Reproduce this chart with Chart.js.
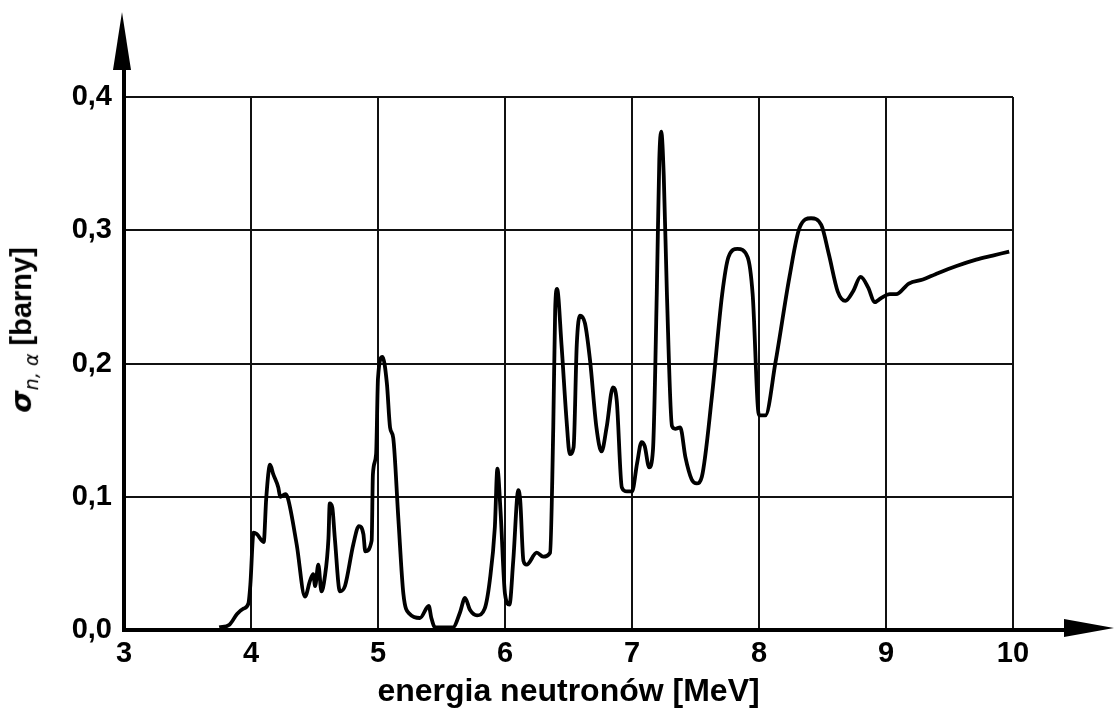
<!DOCTYPE html>
<html>
<head>
<meta charset="utf-8">
<script src="https://cdn.jsdelivr.net/npm/chart.js@4.4.1/dist/chart.umd.min.js"></script>
<style>
  html, body { margin: 0; padding: 0; background: #fff; }
  #wrap { position: relative; width: 1115px; height: 711px; }
  #ytitle {
    position: absolute; left: 24px; top: 330px;
    transform: translate(-50%, -50%) rotate(-90deg);
    white-space: nowrap; font-family: "Liberation Sans", Arial, sans-serif;
    font-weight: bold; font-size: 29px; color: #000; line-height: 1;
  }
  #ytitle .sym { font-style: italic; font-weight: bold; font-family: "DejaVu Sans", sans-serif; }
  #ytitle sub { font-size: 19px; font-style: italic; font-weight: normal; font-family: "DejaVu Sans", sans-serif; }
</style>
</head>
<body>
<div id="wrap">
  <canvas id="c" width="1115" height="711"></canvas>
  <div id="ytitle"><span class="sym">σ</span><sub>n, α</sub> [barny]</div>
</div>
<script>
const energy = [3.75, 3.83, 3.89, 3.94, 3.98, 3.995, 4.02, 4.045, 4.10, 4.12, 4.15, 4.175, 4.215, 4.23, 4.27, 4.29,
  4.36, 4.425, 4.465, 4.49, 4.505, 4.53, 4.555, 4.58, 4.61, 4.62, 4.64, 4.66, 4.70, 4.74, 4.805, 4.85, 4.885, 4.90,
  4.95, 4.96, 4.985, 5.00, 5.035, 5.07, 5.095, 5.12, 5.16, 5.20, 5.25, 5.33, 5.40, 5.42, 5.45, 5.59, 5.645, 5.685,
  5.725, 5.78, 5.84, 5.88, 5.92, 5.94, 5.965, 6.00, 6.035, 6.065, 6.105, 6.12, 6.145, 6.17, 6.25, 6.30, 6.355, 6.38,
  6.395, 6.41, 6.445, 6.485, 6.51, 6.54, 6.565, 6.59, 6.63, 6.67, 6.72, 6.76, 6.80, 6.85, 6.88, 6.92, 6.96, 7.00,
  7.04, 7.075, 7.10, 7.135, 7.165, 7.195, 7.215, 7.23, 7.25, 7.275, 7.315, 7.34, 7.38, 7.42, 7.47, 7.51, 7.55, 7.63,
  7.71, 7.76, 7.83, 7.91, 7.95, 8.00, 8.05, 8.13, 8.24, 8.32, 8.41, 8.49, 8.55, 8.62, 8.68, 8.74, 8.80, 8.86, 8.91,
  8.96, 9.03, 9.08, 9.18, 9.29, 9.39, 9.55, 9.71, 9.84, 9.97];
const sigma = [0.002, 0.004, 0.012, 0.016, 0.020, 0.034, 0.073, 0.072, 0.066, 0.099, 0.124, 0.117, 0.107, 0.100, 0.102, 0.099,
  0.064, 0.025, 0.037, 0.042, 0.033, 0.049, 0.029, 0.039, 0.069, 0.095, 0.092, 0.069, 0.029, 0.033, 0.064, 0.078, 0.072, 0.059,
  0.067, 0.117, 0.132, 0.189, 0.205, 0.185, 0.152, 0.144, 0.084, 0.027, 0.012, 0.009, 0.018, 0.009, 0.002, 0.002, 0.013, 0.024,
  0.015, 0.011, 0.016, 0.037, 0.077, 0.121, 0.089, 0.027, 0.019, 0.052, 0.105, 0.097, 0.052, 0.049, 0.058, 0.055, 0.058, 0.152,
  0.240, 0.256, 0.214, 0.157, 0.132, 0.137, 0.214, 0.236, 0.230, 0.202, 0.152, 0.134, 0.152, 0.182, 0.172, 0.107, 0.104, 0.104,
  0.125, 0.141, 0.138, 0.122, 0.135, 0.252, 0.353, 0.374, 0.341, 0.252, 0.153, 0.151, 0.152, 0.130, 0.113, 0.110, 0.115, 0.176,
  0.252, 0.280, 0.286, 0.280, 0.252, 0.161, 0.161, 0.201, 0.265, 0.302, 0.309, 0.304, 0.282, 0.254, 0.247, 0.254, 0.265, 0.257, 0.246,
  0.249, 0.252, 0.252, 0.260, 0.263, 0.267, 0.273, 0.278, 0.281, 0.284];
const xTickLabels = ['3', '4', '5', '6', '7', '8', '9', '10'];
const yTickLabels = ['0,0', '0,1', '0,2', '0,3', '0,4'];
const xTitle = 'energia neutronów [MeV]';

const points = energy.map((e, i) => ({ x: e, y: sigma[i] }));
const FONT = '"Liberation Sans", Arial, sans-serif';

const arrows = {
  id: 'arrows',
  afterDraw(chart) {
    const { ctx, chartArea: a } = chart;
    ctx.save();
    ctx.strokeStyle = '#000';
    ctx.fillStyle = '#000';
    ctx.lineWidth = 4;
    ctx.beginPath();
    ctx.moveTo(a.left, a.top + 2);
    ctx.lineTo(a.left, 66);
    ctx.stroke();
    ctx.beginPath();
    ctx.moveTo(a.left - 2, 12);
    ctx.lineTo(a.left - 11, 70);
    ctx.lineTo(a.left + 7, 70);
    ctx.closePath();
    ctx.fill();
    ctx.beginPath();
    ctx.moveTo(a.right - 2, a.bottom);
    ctx.lineTo(1068, a.bottom);
    ctx.stroke();
    ctx.beginPath();
    ctx.moveTo(1114, a.bottom - 2);
    ctx.lineTo(1064, a.bottom - 11);
    ctx.lineTo(1064, a.bottom + 7);
    ctx.closePath();
    ctx.fill();
    ctx.restore();
  }
};

new Chart(document.getElementById('c'), {
  type: 'line',
  data: {
    datasets: [{
      data: points,
      borderColor: '#000',
      borderWidth: 3.8,
      pointRadius: 0,
      fill: false,
      cubicInterpolationMode: 'monotone'
    }]
  },
  options: {
    responsive: false,
    animation: false,
    devicePixelRatio: 1,
    layout: { padding: { top: 97, right: 102, left: 0, bottom: 0 } },
    plugins: { legend: { display: false }, tooltip: { enabled: false } },
    scales: {
      x: {
        type: 'linear', min: 3, max: 10,
        afterFit(s) { s.height = 81; },
        afterBuildTicks(s) { s.ticks = xTickLabels.map((t, i) => ({ value: 3 + i })); },
        ticks: {
          autoSkip: false, maxRotation: 0, padding: 7, color: '#000',
          font: { family: FONT, size: 29, weight: 'bold' },
          callback: (v, i) => xTickLabels[i]
        },
        grid: { color: '#111', lineWidth: 2, drawTicks: false },
        border: { display: true, color: '#000', width: 4 },
        title: {
          display: true, text: xTitle, color: '#000',
          font: { family: FONT, size: 32, weight: 'bold' },
          padding: { top: 0, bottom: 0 }
        }
      },
      y: {
        min: 0, max: 0.4,
        afterFit(s) { s.width = 124; },
        afterBuildTicks(s) { s.ticks = yTickLabels.map((t, i) => ({ value: i * 0.1 })); },
        ticks: {
          autoSkip: false, padding: 12, color: '#000',
          font: { family: FONT, size: 29, weight: 'bold' },
          callback: (v, i) => yTickLabels[i]
        },
        grid: { color: '#111', lineWidth: 2, drawTicks: false },
        border: { display: true, color: '#000', width: 4 }
      }
    }
  },
  plugins: [arrows]
});
</script>
</body>
</html>
